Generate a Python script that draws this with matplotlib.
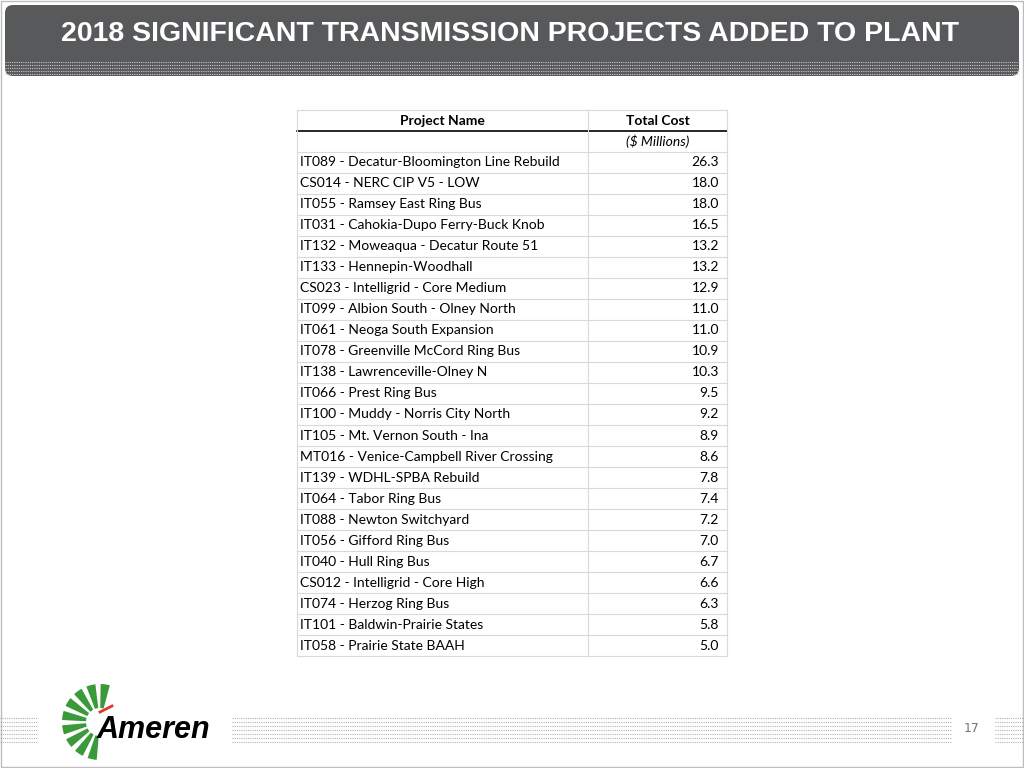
import matplotlib
matplotlib.use("Agg")
import matplotlib.pyplot as plt
from matplotlib.patches import FancyBboxPatch, Rectangle, Wedge

title = "2018 SIGNIFICANT TRANSMISSION PROJECTS ADDED TO PLANT"
col_headers = ["Project Name", "Total Cost"]
units = "($ Millions)"
projects = [
    "IT089 - Decatur-Bloomington Line Rebuild", "CS014 - NERC CIP V5 - LOW",
    "IT055 - Ramsey East Ring Bus", "IT031 - Cahokia-Dupo Ferry-Buck Knob",
    "IT132 - Moweaqua - Decatur Route 51", "IT133 - Hennepin-Woodhall",
    "CS023 - Intelligrid - Core Medium", "IT099 - Albion South - Olney North",
    "IT061 - Neoga South Expansion", "IT078 - Greenville McCord Ring Bus",
    "IT138 - Lawrenceville-Olney N", "IT066 - Prest Ring Bus",
    "IT100 - Muddy - Norris City North", "IT105 - Mt. Vernon South - Ina",
    "MT016 - Venice-Campbell River Crossing", "IT139 - WDHL-SPBA Rebuild",
    "IT064 - Tabor Ring Bus", "IT088 - Newton Switchyard", "IT056 - Gifford Ring Bus",
    "IT040 - Hull Ring Bus", "CS012 - Intelligrid - Core High", "IT074 - Herzog Ring Bus",
    "IT101 - Baldwin-Prairie States", "IT058 - Prairie State BAAH",
]
costs = [26.3, 18.0, 18.0, 16.5, 13.2, 13.2, 12.9, 11.0, 11.0, 10.9, 10.3, 9.5,
         9.2, 8.9, 8.6, 7.8, 7.4, 7.2, 7.0, 6.7, 6.6, 6.3, 5.8, 5.0]
page = "17"

fig = plt.figure(figsize=(10.24, 7.68), dpi=100)
ax = fig.add_axes([0, 0, 1, 1])
ax.set_xlim(0, 1024)
ax.set_ylim(768, 0)
ax.axis("off")

ax.add_patch(Rectangle((1, 1), 1022, 766, fill=False, ec="#bdbdbd", lw=1))
ax.add_patch(FancyBboxPatch((5, 5), 1014, 71, boxstyle="round,pad=0,rounding_size=8",
                            fc="#58595b", ec="none"))
ax.text(510, 34, title, ha="center", va="center", color="white",
        fontsize=20.5, fontweight="bold", family="Liberation Sans")

def dots(x0, x1, ys, color):
    for y in ys:
        ax.plot([x0, x1], [y, y], color=color, lw=0.8, ls=(0, (1, 1)))

dots(5, 1019, [62, 65, 68, 71, 74], "#c8c8c8")
fy = [718, 722, 726, 730, 734, 738, 742]
dots(0, 38, fy, "#b0b0b0")
dots(232, 952, fy, "#b0b0b0")
dots(995, 1024, fy, "#b0b0b0")
ax.text(972, 728, page, ha="center", va="center", fontsize=9, color="#777777")

cx, cy = 100, 722
for i in range(9):
    a0 = 95 + i * 22
    ax.add_patch(Wedge((cx, cy), 38, a0, a0 + 14, width=24, fc="#3a9a3a", ec="none"))
ax.plot([100, 112], [712, 706], color="#e03a2a", lw=2)
ax.text(97, 730, "Ameren", fontsize=22, fontweight="bold", style="italic",
        family="Liberation Sans", va="center", ha="left", color="black")

xl, xm, xr = 297, 588, 727
top = 110
fs = 10
ax.plot([xl, xr], [top, top], color="#d9d9d9", lw=0.8)
ax.text((xl + xm) / 2, 121, col_headers[0], ha="center", va="center", fontsize=fs,
        fontweight="bold", family="Lato")
ax.text((xm + xr) / 2, 121, col_headers[1], ha="center", va="center", fontsize=fs,
        fontweight="bold", family="Lato")
ax.plot([xl, xr], [131, 131], color="black", lw=1.2)
ax.text((xm + xr) / 2, 141, units, ha="center", va="center", fontsize=fs,
        style="italic", family="Lato")
rh = 21.04
ax.plot([xl, xr], [151.5, 151.5], color="#d9d9d9", lw=0.8)
for i, (p, c) in enumerate(zip(projects, costs)):
    yc = 162 + i * rh
    ax.text(xl + 3, yc, p, ha="left", va="center", fontsize=fs, family="Lato")
    ax.text(xr - 8, yc, f"{c:.1f}", ha="right", va="center", fontsize=fs, family="Lato")
    ax.plot([xl, xr], [yc + rh / 2, yc + rh / 2], color="#d9d9d9", lw=0.8)
bottom = 162 + (len(projects) - 1) * rh + rh / 2
for x in (xl, xm, xr):
    ax.plot([x, x], [top, bottom], color="#d9d9d9", lw=0.8)

fig.savefig("out.png", dpi=100)
